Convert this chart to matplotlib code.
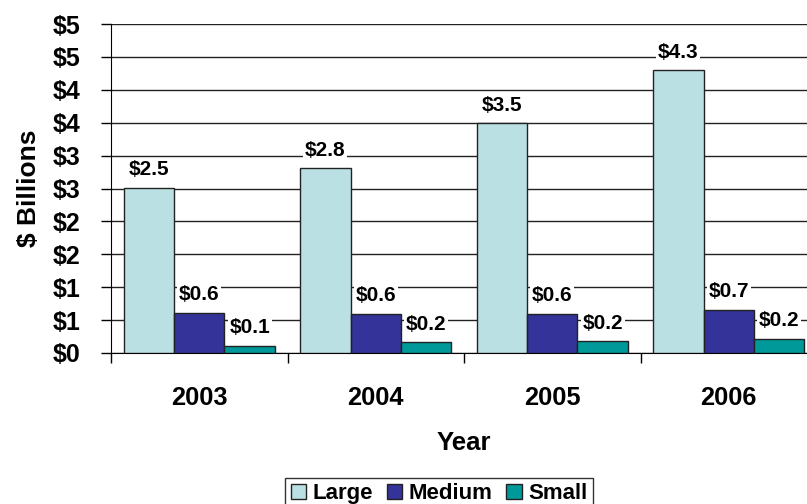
import matplotlib
matplotlib.use("Agg")
import matplotlib.pyplot as plt
import numpy as np
from matplotlib.ticker import FixedLocator

plt.rcParams['font.family'] = ['Liberation Sans', 'DejaVu Sans']
plt.rcParams['font.weight'] = 'bold'

years = ["2003", "2004", "2005", "2006"]
series_names = ["Large", "Medium", "Small"]
large = [2.51, 2.81, 3.49, 4.30]
medium = [0.61, 0.60, 0.60, 0.66]
small = [0.11, 0.16, 0.18, 0.22]
y_tick_values = [0, 0.5, 1.0, 1.5, 2.0, 2.5, 3.0, 3.5, 4.0, 4.5, 5.0]
y_tick_labels = ["$0", "$1", "$1", "$2", "$2", "$3", "$3", "$4", "$4", "$5", "$5"]

colors = ["#BBE0E3", "#333399", "#009999"]

fig = plt.figure(figsize=(8.07, 5.04), dpi=100)
ax = fig.add_axes([111/807, 151/504, 706/807, 329/504])

x = np.arange(len(years))
w = 0.286
series = [large, medium, small]
for i, (vals, name, c) in enumerate(zip(series, series_names, colors)):
    pos = x + (i - 1) * w
    ax.bar(pos, vals, width=w, color=c, edgecolor="#222222", linewidth=1.0,
           label=name, zorder=3)
    for px, v in zip(pos, vals):
        ax.annotate(f"${v:.1f}", (px, v), xytext=(0, 13), textcoords="offset points",
                    ha="center", va="center", fontsize=15, fontweight="bold",
                    zorder=4,
                    bbox=dict(boxstyle="square,pad=0.08", fc="white", ec="none"))

ax.set_xlim(-0.5, 3.5)
ax.set_ylim(0, 5)
ax.yaxis.set_major_locator(FixedLocator(y_tick_values))
ax.set_yticklabels(y_tick_labels)
ax.grid(axis="y", color="#222222", linewidth=1.0, zorder=0)
ax.set_axisbelow(True)

ax.set_xticks(x)
ax.set_xticklabels(years)
ax.xaxis.set_minor_locator(FixedLocator(np.arange(-0.5, 4.0, 1.0)))
ax.tick_params(axis="x", which="major", length=0, pad=24, labelsize=18.3)
ax.tick_params(axis="x", which="minor", length=7, width=1.0, color="black")
ax.tick_params(axis="y", length=7, width=1.0, pad=15, labelsize=18)

for s in ["top", "right"]:
    ax.spines[s].set_visible(False)
ax.spines["left"].set_color("black")
ax.spines["bottom"].set_color("black")

fig.text(29/807, 1 - 188/504, "$ Billions", rotation=90, ha="center", va="center",
         fontsize=19, fontweight="bold")
fig.text(464/807, 1 - 443/504, "Year", ha="center", va="center",
         fontsize=18.5, fontweight="bold")

leg = fig.legend(loc="lower center", bbox_to_anchor=(439/807, -0.012), ncol=3,
                 frameon=True, fancybox=False, edgecolor="black",
                 prop={"size": 16, "weight": "bold"},
                 handlelength=0.7, handleheight=0.7, handletextpad=0.3,
                 columnspacing=0.6, borderpad=0.25, borderaxespad=0)
leg.get_frame().set_linewidth(1.0)

fig.savefig("out.png", dpi=100)
